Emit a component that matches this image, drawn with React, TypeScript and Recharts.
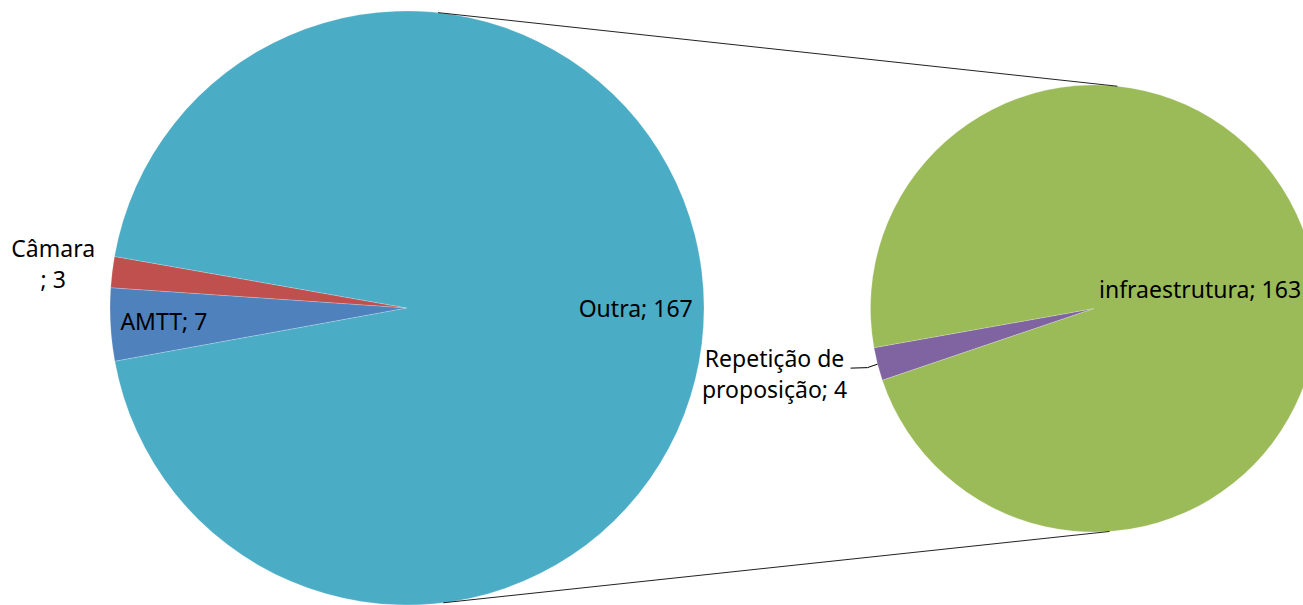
import React from 'react';
import { PieChart, Pie, Cell } from 'recharts';

// primary pie
const mainNames = ['Câmara', 'AMTT', 'Outra'];
const mainValues = [3, 7, 167];
const mainColors = ['#C0504D', '#4F81BD', '#4BACC6'];

// secondary pie (breakdown of "Outra")
const subNames = ['Repetição de proposição', 'infraestrutura'];
const subValues = [4, 163];
const subColors = ['#8064A2', '#9BBB59'];

const mainData = mainNames.map((name, i) => ({ name, value: mainValues[i] }));
const subData = subNames.map((name, i) => ({ name, value: subValues[i] }));

const W = 1303;
const H = 605;
const MAIN = { cx: 407, cy: 308, r: 297, start: 170 };
const SUB = { cx: 1094, cy: 308.5, r: 223.5, start: 190.1 };

const FONT = "'Noto Sans', sans-serif";
const FONT_SIZE = 23;
const LINE_H = 31;
const CAP_HALF = 8;
const RAD = Math.PI / 180;

const polar = (cx: number, cy: number, r: number, a: number) => ({
  x: cx + r * Math.cos(-a * RAD),
  y: cy + r * Math.sin(-a * RAD),
});

type Layout = {
  k: number;
  dx?: number;
  dy?: number;
  anchor: 'start' | 'middle' | 'end';
  leader?: boolean;
  lines: (name: string, value: number) => string[];
};

const single = (n: string, v: number) => [`${n}; ${v}`];

const LABEL_LAYOUT: Record<string, Layout> = {
  'Câmara': { k: 1.2, anchor: 'middle', lines: (n, v) => [n, `; ${v}`] },
  AMTT: { k: 0.82, anchor: 'middle', lines: single },
  Outra: { k: 0.77, dy: 1.5, anchor: 'middle', lines: single },
  'Repetição de proposição': {
    k: 1,
    dx: -103,
    dy: 10,
    anchor: 'middle',
    leader: true,
    lines: (n, v) => {
      const w = n.split(' ');
      return [w.slice(0, 2).join(' '), `${w.slice(2).join(' ')}; ${v}`];
    },
  },
  infraestrutura: { k: 0, dx: 5, dy: -18.5, anchor: 'start', lines: single },
};

const renderLabel = (props: any) => {
  const { cx, cy, midAngle, outerRadius } = props;
  const name = props.payload?.name ?? props.name;
  const value = props.payload?.value ?? props.value;
  const lay = LABEL_LAYOUT[name];
  if (!lay) return null;
  const p = polar(cx, cy, outerRadius * lay.k, midAngle);
  const x = p.x + (lay.dx ?? 0);
  const yc = p.y + (lay.dy ?? 0);
  const lines = lay.lines(name, value);
  const y0 = yc - ((lines.length - 1) * LINE_H) / 2 + CAP_HALF;
  return (
    <g>
      {lay.leader && (
        <path
          d={`M${p.x},${p.y} L${p.x - 10},${p.y + 3.5} L${p.x - 27},${p.y + 4}`}
          fill="none"
          stroke="#000"
          strokeWidth={1}
        />
      )}
      <text x={x} y={y0} textAnchor={lay.anchor} fill="#000" fontFamily={FONT} fontSize={FONT_SIZE}>
        {lines.map((l, i) => (
          <tspan key={i} x={x} y={y0 + i * LINE_H}>
            {l}
          </tspan>
        ))}
      </text>
    </g>
  );
};

// connector lines between the two pies
const connTop = [polar(MAIN.cx, MAIN.cy, MAIN.r, 84), polar(SUB.cx, SUB.cy, SUB.r, 84)];
const connBottom = [polar(MAIN.cx, MAIN.cy, MAIN.r, -83), polar(SUB.cx, SUB.cy, SUB.r, -86)];

export default function App() {
  return (
    <div style={{ position: 'absolute', left: 0, top: 0, width: W, height: H, background: '#fff' }}>
      <PieChart width={W} height={H} margin={{ top: 0, right: 0, bottom: 0, left: 0 }}>
        <Pie
          data={mainData}
          dataKey="value"
          nameKey="name"
          cx={MAIN.cx}
          cy={MAIN.cy}
          outerRadius={MAIN.r}
          startAngle={MAIN.start}
          endAngle={MAIN.start + 360}
          stroke="#ffffff"
          strokeWidth={0.4}
          strokeOpacity={0.5}
          label={renderLabel}
          labelLine={false}
          isAnimationActive={false}
        >
          {mainData.map((d, i) => (
            <Cell key={d.name} fill={mainColors[i]} />
          ))}
        </Pie>
        <Pie
          data={subData}
          dataKey="value"
          nameKey="name"
          cx={SUB.cx}
          cy={SUB.cy}
          outerRadius={SUB.r}
          startAngle={SUB.start}
          endAngle={SUB.start + 360}
          stroke="#ffffff"
          strokeWidth={0.4}
          strokeOpacity={0.5}
          label={renderLabel}
          labelLine={false}
          isAnimationActive={false}
        >
          {subData.map((d, i) => (
            <Cell key={d.name} fill={subColors[i]} />
          ))}
        </Pie>
      </PieChart>
      <svg
        width={W}
        height={H}
        style={{ position: 'absolute', left: 0, top: 0, pointerEvents: 'none' }}
      >
        {[connTop, connBottom].map((c, i) => (
          <line key={i} x1={c[0].x} y1={c[0].y} x2={c[1].x} y2={c[1].y} stroke="#222" strokeWidth={1} />
        ))}
      </svg>
    </div>
  );
}
